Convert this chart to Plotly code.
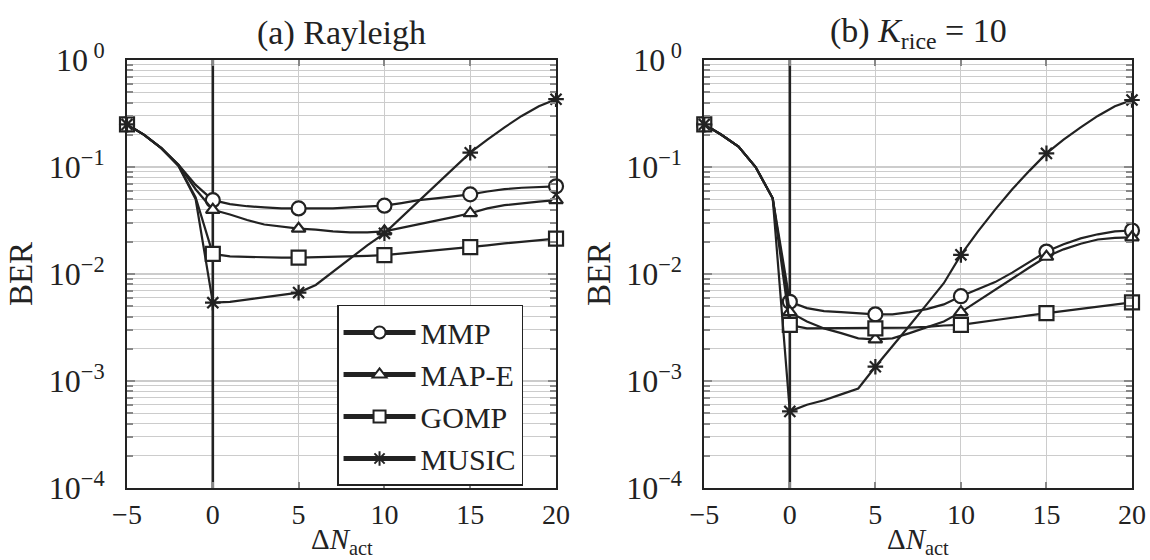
import plotly.graph_objects as go

# Offset in number of active antennas (integer steps)
dn = list(range(-5, 21))

# (a) Rayleigh fading
ray_mmp = [0.25, 0.20, 0.15, 0.105, 0.068, 0.049, 0.045, 0.043, 0.042, 0.041, 0.041,
           0.041, 0.041, 0.042, 0.0425, 0.0435, 0.046, 0.049, 0.051, 0.053, 0.0555,
           0.059, 0.062, 0.064, 0.065, 0.066]
ray_mape = [0.25, 0.20, 0.15, 0.105, 0.062, 0.0398, 0.036, 0.032, 0.029, 0.0275, 0.0265,
            0.026, 0.025, 0.0245, 0.0245, 0.025, 0.027, 0.029, 0.031, 0.034, 0.037,
            0.041, 0.044, 0.046, 0.0475, 0.049]
ray_gomp = [0.25, 0.20, 0.15, 0.103, 0.052, 0.0154, 0.0146, 0.0144, 0.0143, 0.0142, 0.0142,
            0.0143, 0.0145, 0.0147, 0.0148, 0.015, 0.0155, 0.016, 0.0166, 0.0172, 0.0178,
            0.0185, 0.0193, 0.020, 0.0207, 0.0214]
ray_music = [0.25, 0.20, 0.15, 0.102, 0.050, 0.0054, 0.0055, 0.0058, 0.0061, 0.0064, 0.0067,
             0.0079, 0.0105, 0.014, 0.0185, 0.024, 0.034, 0.048, 0.068, 0.096, 0.136,
             0.18, 0.235, 0.30, 0.37, 0.43]

# (b) Rician fading, K = 10
rice_mmp = [0.25, 0.20, 0.155, 0.10, 0.051, 0.0055, 0.0048, 0.0045, 0.0044, 0.0043, 0.0042,
            0.0042, 0.0044, 0.0047, 0.0052, 0.0062, 0.0072, 0.0084, 0.0103, 0.0128, 0.0162,
            0.019, 0.0215, 0.0235, 0.025, 0.0255]
rice_mape = [0.25, 0.20, 0.155, 0.10, 0.051, 0.0044, 0.0036, 0.0031, 0.0028, 0.0025, 0.00245,
             0.0025, 0.0028, 0.0032, 0.0036, 0.0044, 0.0056, 0.0072, 0.009, 0.0115, 0.0145,
             0.017, 0.0192, 0.021, 0.0218, 0.022]
rice_gomp = [0.25, 0.20, 0.155, 0.10, 0.051, 0.00334, 0.0031, 0.0031, 0.0031, 0.0031, 0.0031,
             0.00312, 0.00315, 0.0032, 0.0033, 0.00334, 0.0035, 0.0037, 0.0039, 0.0041, 0.0043,
             0.0045, 0.0047, 0.0050, 0.0052, 0.00543]
rice_music = [0.25, 0.20, 0.155, 0.10, 0.051, 0.00052, 0.0006, 0.00066, 0.00075, 0.00085, 0.00136,
              0.0021, 0.0033, 0.0052, 0.0082, 0.0151, 0.025, 0.040, 0.062, 0.092, 0.134,
              0.18, 0.235, 0.30, 0.37, 0.423]

names = ["MMP", "MAP-E", "GOMP", "MUSIC"]
symbols = ["circle", "triangle-up", "square", "asterisk-open"]
msizes = [14, 12, 14, 13]

panels = [
    ("x", "y", [ray_mmp, ray_mape, ray_gomp, ray_music]),
    ("x2", "y2", [rice_mmp, rice_mape, rice_gomp, rice_music]),
]

FONT = "Liberation Serif"
INK = "#222222"
GRID = "#cccccc"
TICK = "#888888"


def marker_style(sym, size):
    # line-only symbols take their stroke colour from marker.color
    fill = INK if sym.startswith("asterisk") else "white"
    return dict(symbol=sym, size=size, color=fill, line=dict(color=INK, width=2.2))


fig = go.Figure()

for xa, ya, series in panels:
    # vertical reference line at zero offset, above the grid but beneath the curves
    fig.add_trace(go.Scatter(
        x=[0, 0], y=[1e-4, 1], mode="lines", xaxis=xa, yaxis=ya,
        line=dict(color=INK, width=2.6), showlegend=False, hoverinfo="skip"))
    for name, sym, ms, vals in zip(names, symbols, msizes, series):
        fig.add_trace(go.Scatter(
            x=dn, y=vals, mode="lines", xaxis=xa, yaxis=ya,
            line=dict(color=INK, width=2.2), showlegend=False, hoverinfo="skip"))
        mx = [d for d in dn if d % 5 == 0]
        my = [v for d, v in zip(dn, vals) if d % 5 == 0]
        fig.add_trace(go.Scatter(
            x=mx, y=my, mode="markers", xaxis=xa, yaxis=ya, cliponaxis=False,
            marker=marker_style(sym, ms), showlegend=False, hoverinfo="skip"))

# legend entries
for name, sym, ms in zip(names, symbols, msizes):
    fig.add_trace(go.Scatter(
        x=[None], y=[None], mode="lines+markers", name=name, xaxis="x", yaxis="y",
        line=dict(color=INK, width=2.2), marker=marker_style(sym, ms)))

minor_vals = [k * 10.0 ** e for e in range(-4, 0) for k in range(2, 10)]

xaxis_common = dict(
    range=[-5, 20], tickvals=[-5, 0, 5, 10, 15, 20], ticks="inside", ticklen=6,
    tickcolor=TICK, tickwidth=1.5, showgrid=True, gridcolor=GRID, gridwidth=1.3,
    showline=True, linecolor=INK, linewidth=1.8, mirror="allticks", zeroline=False,
    automargin=False,
    tickfont=dict(family=FONT, size=28, color=INK),
)
yaxis_common = dict(
    type="log", range=[-4, 0],
    tickvals=[1e-4, 1e-3, 1e-2, 1e-1, 1],
    ticktext=["10<sup>−4</sup>", "10<sup>−3</sup>", "10<sup>−2</sup>",
              "10<sup>−1</sup>", "10<sup> 0</sup>"],
    ticks="inside", ticklen=8, tickcolor=TICK, tickwidth=1.5,
    showgrid=True, gridcolor=GRID, gridwidth=1.5,
    minor=dict(tickmode="array", tickvals=minor_vals, ticks="inside", ticklen=6,
               tickcolor=TICK, tickwidth=1.5, showgrid=True, gridcolor=GRID,
               gridwidth=1.3),
    showline=True, linecolor=INK, linewidth=1.8, mirror="allticks", zeroline=False,
    automargin=False,
    tickfont=dict(family=FONT, size=32, color=INK), ticklabelstandoff=14,
    title=dict(text="BER", font=dict(family=FONT, size=33, color=INK), standoff=6),
)

fig.update_layout(
    width=1150, height=560,
    margin=dict(l=127, r=18, t=60, b=72, autoexpand=False),
    paper_bgcolor="white", plot_bgcolor="white",
    xaxis=dict(domain=[0, 0.4269], anchor="y", **xaxis_common),
    yaxis=dict(domain=[0, 1], anchor="x", **yaxis_common),
    xaxis2=dict(domain=[0.5744, 1], anchor="y2", **xaxis_common),
    yaxis2=dict(domain=[0, 1], anchor="x2", **yaxis_common),
    legend=dict(x=0.209, y=0.4276, xanchor="left", yanchor="top",
                bgcolor="white", bordercolor=INK, borderwidth=1.5,
                font=dict(family=FONT, size=30, color=INK),
                itemsizing="constant", itemwidth=72, tracegroupgap=0),
    showlegend=True,
)

# panel titles and x-axis titles
for dom, title in [("x domain", "(a) Rayleigh"),
                   ("x2 domain", "(b) <i>K</i><sub>rice</sub> = 10")]:
    fig.add_annotation(text=title, xref=dom, yref="paper", x=0.5, y=1.0,
                       yanchor="middle", yshift=27, showarrow=False,
                       font=dict(family=FONT, size=34, color=INK))
    fig.add_annotation(text="Δ<i>N</i><sub>act</sub>", xref=dom, yref="paper", x=0.5, y=0.0,
                       yanchor="bottom", yshift=-73, showarrow=False,
                       font=dict(family=FONT, size=29, color=INK))

fig.write_html("out.html")
